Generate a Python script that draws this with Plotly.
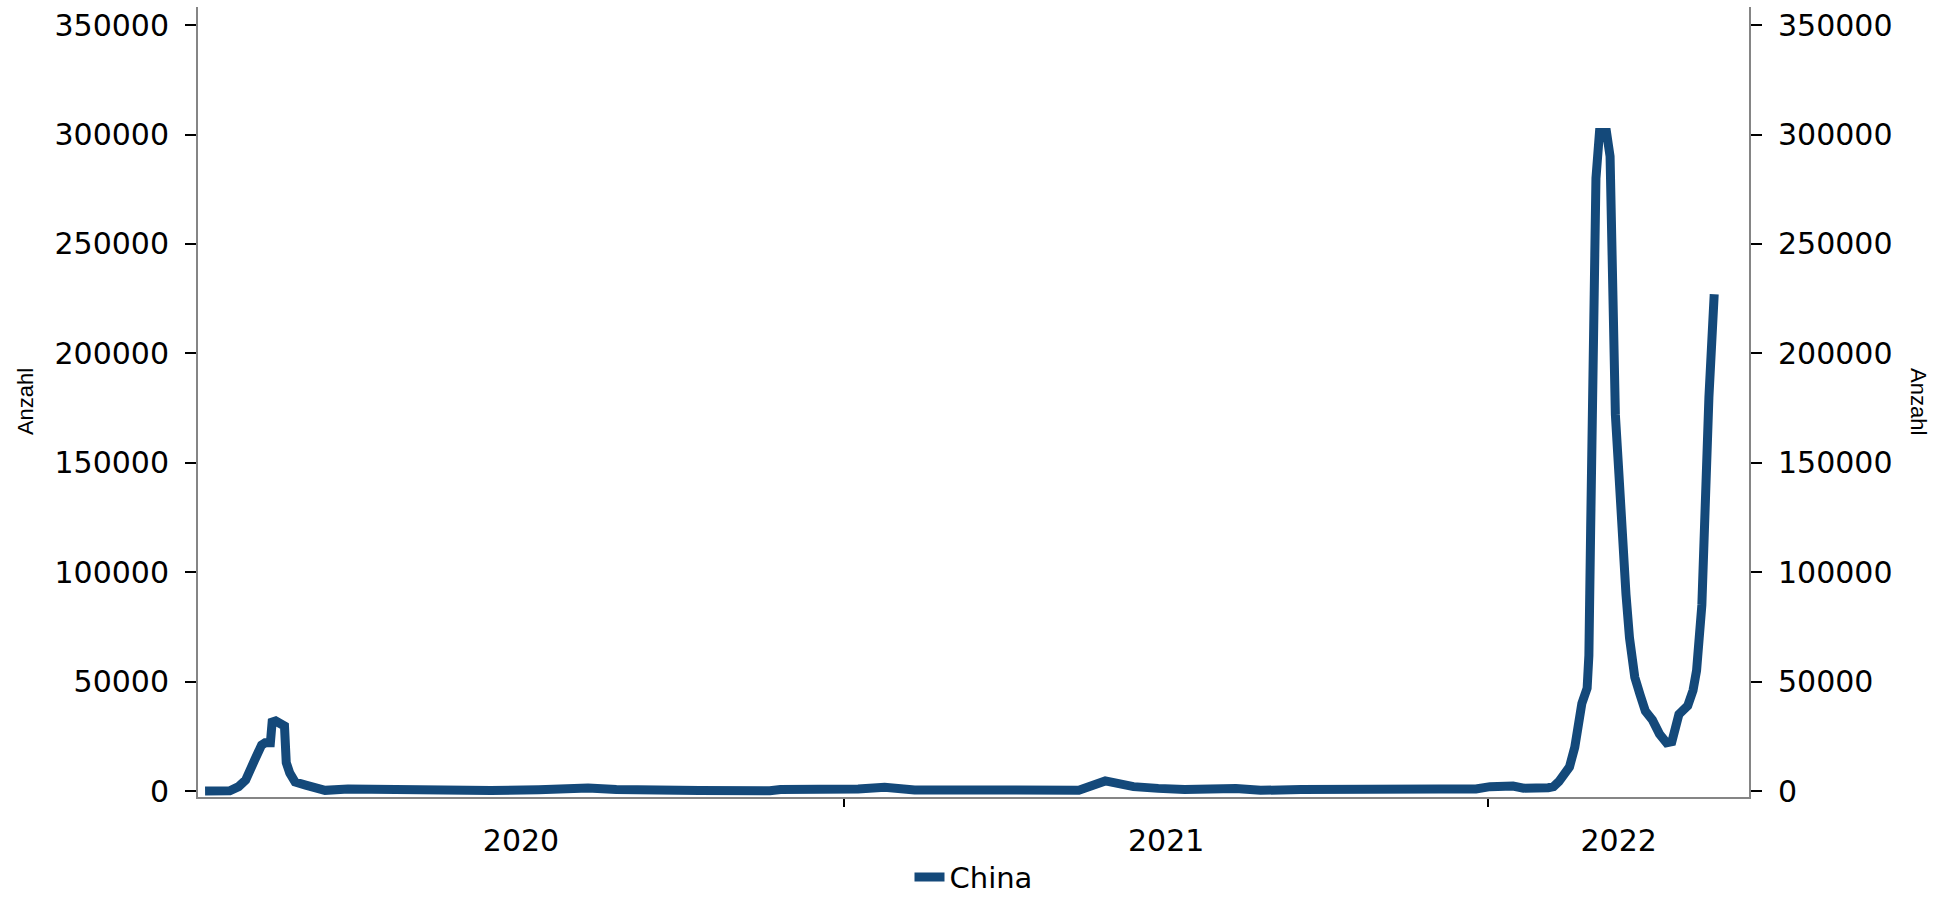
import plotly.graph_objects as go
import pandas as pd

# ---- data ----
dates = [
    "2020-01-05", "2020-01-19", "2020-01-24", "2020-01-28", "2020-02-02", "2020-02-06",
    "2020-02-08", "2020-02-11", "2020-02-12", "2020-02-14", "2020-02-19", "2020-02-20",
    "2020-02-22", "2020-02-25", "2020-03-02", "2020-03-07", "2020-03-13", "2020-03-26",
    "2020-04-05", "2020-04-18", "2020-04-25", "2020-05-27", "2020-06-15", "2020-07-12",
    "2020-07-23", "2020-08-02", "2020-08-09", "2020-08-25", "2020-09-12", "2020-10-11",
    "2020-11-20", "2020-11-26", "2021-01-09", "2021-01-24", "2021-02-10", "2021-05-14",
    "2021-05-29", "2021-06-05", "2021-06-14", "2021-06-28", "2021-07-13", "2021-08-11",
    "2021-08-25", "2021-09-17", "2021-10-22", "2021-11-05", "2021-11-25", "2021-12-04",
    "2021-12-25", "2022-01-02", "2022-01-15", "2022-01-21", "2022-02-04", "2022-02-07",
    "2022-02-10", "2022-02-13", "2022-02-16", "2022-02-19", "2022-02-21", "2022-02-23",
    "2022-02-26", "2022-02-27", "2022-02-28", "2022-03-01", "2022-03-02", "2022-03-03",
    "2022-03-05", "2022-03-09", "2022-03-11", "2022-03-12", "2022-03-13", "2022-03-14",
    "2022-03-16", "2022-03-17", "2022-03-18", "2022-03-20", "2022-03-22", "2022-03-25",
    "2022-03-28", "2022-03-31", "2022-04-04", "2022-04-08", "2022-04-12", "2022-04-15",
    "2022-04-19", "2022-04-24", "2022-04-27", "2022-04-29", "2022-05-02", "2022-05-04",
    "2022-05-06", "2022-05-09",
]
cases = [
    0, 100, 2000, 5000, 14000, 21000,
    22000, 22000, 31500, 32000, 29700, 13000,
    8200, 4100, 2700, 1400, 300, 900,
    800, 900, 200, 100, 200, 600,
    1000, 1700, 1400, 700, 300, 200,
    100, 700, 900, 1700, 500, 400,
    4600, 3600, 2000, 1200, 700, 1100,
    300, 700, 400, 1000, 300, 900,
    900, 2000, 2300, 1300, 1500, 2000,
    4300, 8000, 11000, 20000, 33000, 40000,
    47000, 62000, 120000, 200000, 255000, 280000,
    301000, 301000, 290000, 240000, 200000, 172000,
    145000, 125000, 108000, 90000, 70000, 52000,
    44000, 36500, 32500, 26000, 22000, 22500,
    35000, 39000, 46000, 55000, 85000, 148000,
    180000, 227000,
]
series_name = "China"
axis_title = "Anzahl"
year_labels = ["2020", "2021", "2022"]
y_ticks = [0, 50000, 100000, 150000, 200000, 250000, 300000, 350000]

# ---- styling ----
LINE_COLOR = "#14497a"
AXIS_GRAY = "#858585"
TICK_FONT = dict(family="DejaVu Sans", size=30, color="black")

x_start = pd.Timestamp("2020-01-01")
x_end = pd.Timestamp("2022-05-28 17:00")
y_range = [-2740, 358300]

# year boundary ticks and centred year labels
bounds = [pd.Timestamp(f"{y}-01-01") for y in (2020, 2021, 2022, 2023)]
label_pos = []
for a, b in zip(bounds[:-1], bounds[1:]):
    a2, b2 = max(a, x_start), min(b, x_end)
    label_pos.append(a2 + (b2 - a2) / 2)
boundary_ticks = [b for b in bounds if x_start < b < x_end]

fig = go.Figure()
fig.add_trace(go.Scatter(
    x=dates, y=cases, mode="lines", name=series_name,
    line=dict(color=LINE_COLOR, width=9),
))
fig.add_trace(go.Scatter(
    x=dates, y=cases, mode="lines", yaxis="y2", showlegend=False,
    hoverinfo="skip", opacity=0, line=dict(color=LINE_COLOR, width=1),
))

yaxis_common = dict(
    range=y_range, tickmode="array", tickvals=y_ticks,
    ticktext=[str(v) for v in y_ticks],
    ticks="outside", ticklen=11, tickwidth=2, tickcolor="black",
    showline=True, linecolor=AXIS_GRAY, linewidth=2,
    showgrid=False, zeroline=False, tickfont=TICK_FONT,
    ticklabelstandoff=10,
)

fig.update_layout(
    width=1944, height=897,
    margin=dict(l=198, r=195, t=7, b=100, autoexpand=False),
    paper_bgcolor="white", plot_bgcolor="white",
    showlegend=True,
    legend=dict(
        orientation="h", x=0.5, xanchor="center",
        yref="container", y=0.022, yanchor="middle",
        font=dict(family="DejaVu Sans", size=29, color="black"),
        bgcolor="rgba(0,0,0,0)",
    ),
    xaxis=dict(
        range=[x_start, x_end], type="date",
        tickmode="array", tickvals=label_pos, ticktext=year_labels,
        ticks="", tickfont=TICK_FONT, ticklabelstandoff=16,
        showline=True, linecolor=AXIS_GRAY, linewidth=2,
        showgrid=False, zeroline=False,
        minor=dict(tickmode="array", tickvals=boundary_ticks, ticks="outside",
                   ticklen=8, tickwidth=1.5, tickcolor="black", showgrid=False),
    ),
    yaxis=dict(side="left", **yaxis_common),
    yaxis2=dict(side="right", overlaying="y", **yaxis_common),
    annotations=[
        dict(text=axis_title, xref="paper", yref="paper", x=-0.1115, y=0.5,
             xanchor="center", yanchor="middle", textangle=-90, showarrow=False,
             font=dict(family="Liberation Sans", size=22, color="black")),
        dict(text=axis_title, xref="paper", yref="paper", x=1.1096, y=0.5,
             xanchor="center", yanchor="middle", textangle=90, showarrow=False,
             font=dict(family="Liberation Sans", size=22, color="black")),
    ],
)

fig.write_html("out.html", config={"displayModeBar": False},
               post_script="document.body.style.margin='0';")
